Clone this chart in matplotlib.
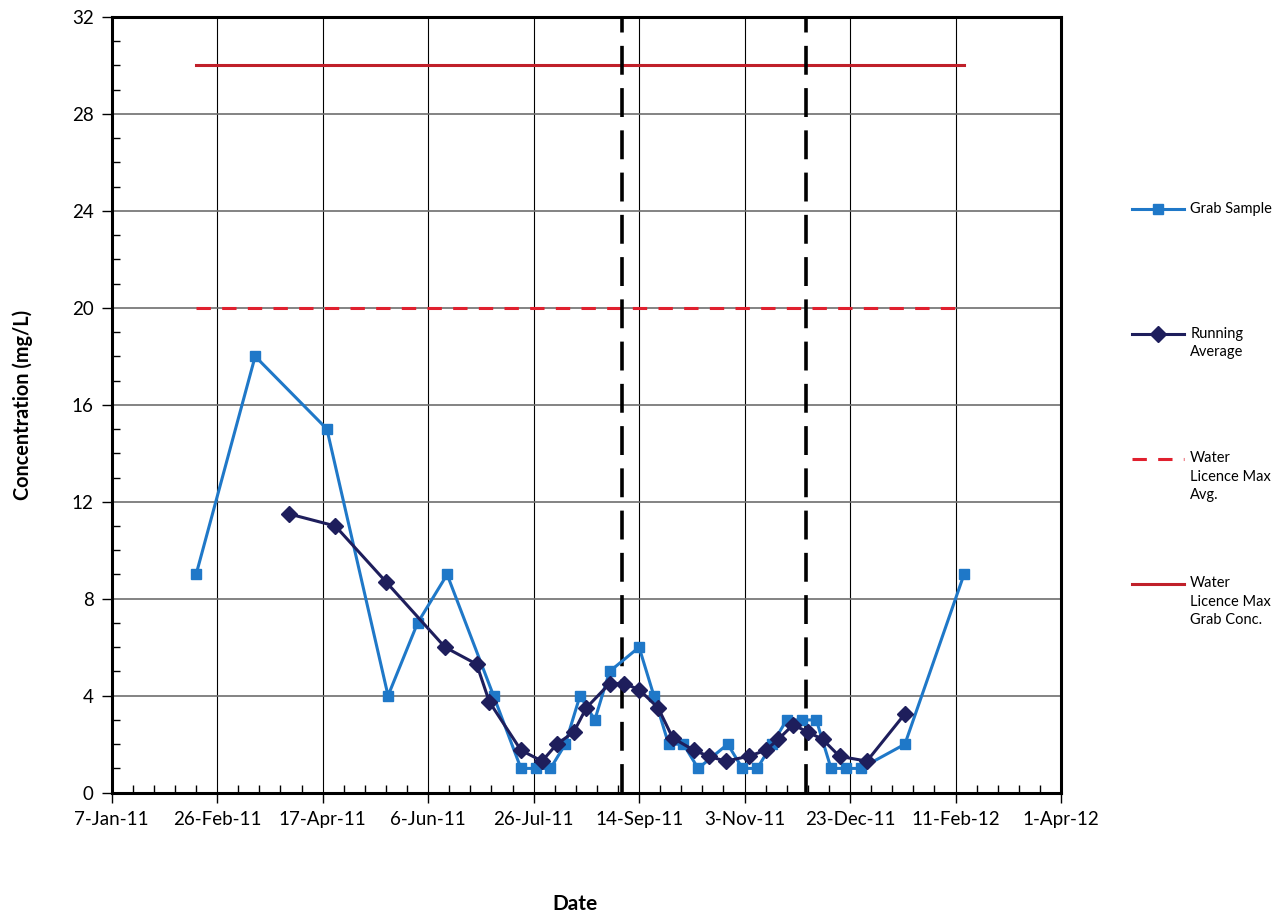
import numpy as np
import pandas as pd
import matplotlib
matplotlib.use("Agg")
import matplotlib.pyplot as plt
import matplotlib.dates as mdates
from matplotlib.ticker import MultipleLocator, FuncFormatter

plt.rcParams['font.family'] = ['Lato', 'DejaVu Sans']

# grab samples (weekly-ish)
grab_dates = ["2011-02-16", "2011-03-16", "2011-04-19", "2011-05-18", "2011-06-01",
              "2011-06-15", "2011-07-07", "2011-07-20", "2011-07-27", "2011-08-03",
              "2011-08-10", "2011-08-17", "2011-08-24", "2011-08-31", "2011-09-14",
              "2011-09-21", "2011-09-28", "2011-10-05", "2011-10-12", "2011-10-26",
              "2011-11-02", "2011-11-09", "2011-11-16", "2011-11-23", "2011-11-30",
              "2011-12-07", "2011-12-14", "2011-12-21", "2011-12-28", "2012-01-18",
              "2012-02-15"]
grab_vals = [9, 18, 15, 4, 7, 9, 4, 1, 1, 1, 2, 4, 3, 5, 6, 4, 2, 2, 1, 2,
             1, 1, 2, 3, 3, 3, 1, 1, 1, 2, 9]

# running average
avg_dates = ["2011-04-01", "2011-04-23", "2011-05-17", "2011-06-14", "2011-06-29",
             "2011-07-05", "2011-07-20", "2011-07-30", "2011-08-06", "2011-08-14",
             "2011-08-20", "2011-08-31", "2011-09-07", "2011-09-14", "2011-09-23",
             "2011-09-30", "2011-10-10", "2011-10-17", "2011-10-25", "2011-11-05",
             "2011-11-13", "2011-11-19", "2011-11-26", "2011-12-03", "2011-12-10",
             "2011-12-18", "2011-12-31", "2012-01-18"]
avg_vals = [11.5, 11.0, 8.7, 6.0, 5.3, 3.75, 1.75, 1.3, 2.0, 2.5, 3.5, 4.5, 4.5,
            4.25, 3.5, 2.25, 1.75, 1.5, 1.3, 1.5, 1.75, 2.2, 2.8, 2.5, 2.2, 1.5,
            1.3, 3.25]

# licence limits
limit_span = ["2011-02-16", "2012-02-15"]
max_avg = 20
max_grab = 30

# vertical markers
vline_dates = ["2011-09-06", "2011-12-02"]

grab_dates = pd.to_datetime(grab_dates)
avg_dates = pd.to_datetime(avg_dates)
limit_span = pd.to_datetime(limit_span)
vline_dates = pd.to_datetime(vline_dates)

fig = plt.figure(figsize=(12.87, 9.17), dpi=100)
ax = fig.add_axes([0.0868, 0.1356, 0.7376, 0.8459])

ax.plot(limit_span, [max_avg, max_avg], color='#E0202E', lw=2.2, dashes=(4.7, 3.7),
        label="\n\nWater\nLicence Max\nAvg.", zorder=3)
ax.plot(limit_span, [max_grab, max_grab], color='#C0202A', lw=2.2,
        label="\n\nWater\nLicence Max\nGrab Conc.", zorder=3)
for d in vline_dates:
    ax.axvline(d, color='black', lw=2.6, dashes=(8, 3.7), zorder=4)
ax.plot(grab_dates, grab_vals, color='#1F78C8', lw=2.2, marker='s', ms=7.5,
        label="\n\nGrab Sample\n\n", zorder=5)
ax.plot(avg_dates, avg_vals, color='#1E1E5C', lw=2.2, marker='D', ms=7.8,
        label="\n\nRunning\nAverage\n", zorder=6)

ax.set_xlim(pd.Timestamp("2011-01-07"), pd.Timestamp("2012-04-01"))
ax.set_ylim(0, 32)

start = pd.Timestamp("2011-01-07")
major_x = [mdates.date2num(start + pd.Timedelta(days=50 * i)) for i in range(10)]
minor_x = [mdates.date2num(start + pd.Timedelta(days=10 * i)) for i in range(46)]
ax.set_xticks(major_x)
ax.set_xticks(minor_x, minor=True)
ax.xaxis.set_major_formatter(FuncFormatter(
    lambda v, p: (lambda d: f"{d.day}-{d.strftime('%b-%y')}")(mdates.num2date(v))))
ax.yaxis.set_major_locator(MultipleLocator(4))
ax.yaxis.set_minor_locator(MultipleLocator(1))

ax.grid(True, which='major', axis='x', color='black', lw=0.8)
ax.grid(True, which='major', axis='y', color='#6e6e6e', lw=1.2)
ax.tick_params(which='major', direction='out', length=7, width=1.0, labelsize=13.5, pad=6)
ax.tick_params(which='minor', direction='in', length=6, width=1.0)
for s in ax.spines.values():
    s.set_linewidth(2.2)
    s.set_color('black')

ax.set_ylabel("Concentration (mg/L)", fontsize=14.3, fontweight='bold', labelpad=28)
fig.text(0.447, 0.003, "Date", fontsize=15, fontweight='bold', ha='center', va='bottom')

h, l = ax.get_legend_handles_labels()
order = [2, 3, 0, 1]
leg = ax.legend([h[i] for i in order], [l[i] for i in order], loc='upper left',
                bbox_to_anchor=(0.8795, 1 - 165 / 917), bbox_transform=fig.transFigure,
                frameon=False, fontsize=10.5, handlelength=3.6, handletextpad=0.4,
                labelspacing=2.55, borderpad=0, borderaxespad=0)
for t in leg.get_texts():
    t.set_linespacing(1.4)

fig.savefig("out.png", dpi=100)
